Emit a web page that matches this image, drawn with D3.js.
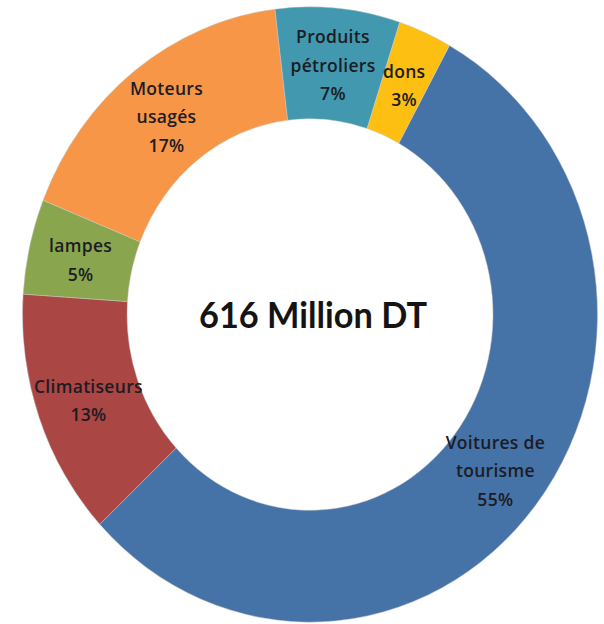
<!DOCTYPE html>
<html><head><meta charset="utf-8">
<script src="https://cdn.jsdelivr.net/npm/d3@7"></script>
<style>body{margin:0;background:#fff}svg{display:block}</style>
</head><body>
<svg id="c" width="604" height="624"></svg>
<script>
const categories = ["Voitures de tourisme", "Climatiseurs", "lampes", "Moteurs usagés", "Produits pétroliers", "dons"];
const labelLines = [["Voitures de", "tourisme"], ["Climatiseurs"], ["lampes"], ["Moteurs", "usagés"], ["Produits", "pétroliers"], ["dons"]];
const values = [55, 13, 5, 17, 7, 3];
const colors = ["#4572A7", "#AA4643", "#89A54E", "#F79646", "#4198AF", "#FDBF12"];
const centerTitle = "616 Million DT";

const svg = d3.select("#c");
const cx = 310, cy = 314.5, R = 287.5, r = 183, sy = 1.07;
const start = 29 * Math.PI / 180;

const pie = d3.pie().sort(null).value(d => d).startAngle(start).endAngle(start + 2 * Math.PI);
const arcs = pie(values);
const arc = d3.arc().innerRadius(r).outerRadius(R);
const mid = d3.arc().innerRadius((R + r) / 2).outerRadius((R + r) / 2);

const g = svg.append("g").attr("transform", `translate(${cx},${cy}) scale(1,${sy})`);
g.selectAll("path").data(arcs).join("path")
  .attr("d", arc)
  .attr("fill", (d, i) => colors[i])
  .attr("stroke", "#c8c8c8")
  .attr("stroke-width", 0.8)
  .attr("stroke-opacity", 0.6);

const lg = svg.append("g").attr("transform", `translate(${cx},${cy})`);
const lh = 28.5;
arcs.forEach((d, i) => {
  const [x, y] = mid.centroid(d);
  const lines = labelLines[i].concat([values[i] + "%"]);
  const n = lines.length;
  const t = lg.append("text")
    .attr("x", x).attr("y", y * sy)
    .attr("text-anchor", "middle")
    .attr("font-family", "'Open Sans', Lato, sans-serif")
    .attr("font-weight", 600)
    .attr("font-size", 17.5)
    .attr("letter-spacing", 0.3)
    .attr("fill", "#1c1c24");
  lines.forEach((s, k) => {
    t.append("tspan").attr("x", x)
      .attr("y", y * sy + (k - (n - 1) / 2) * lh + 8)
      .text(s);
  });
});

svg.append("text")
  .attr("x", 313).attr("y", 328)
  .attr("text-anchor", "middle")
  .attr("font-family", "Lato, 'Open Sans', sans-serif")
  .attr("font-weight", "bold")
  .attr("font-size", 37)
  .attr("textLength", 228)
  .attr("lengthAdjust", "spacingAndGlyphs")
  .attr("fill", "#141414")
  .text(centerTitle);
</script>
</body></html>
